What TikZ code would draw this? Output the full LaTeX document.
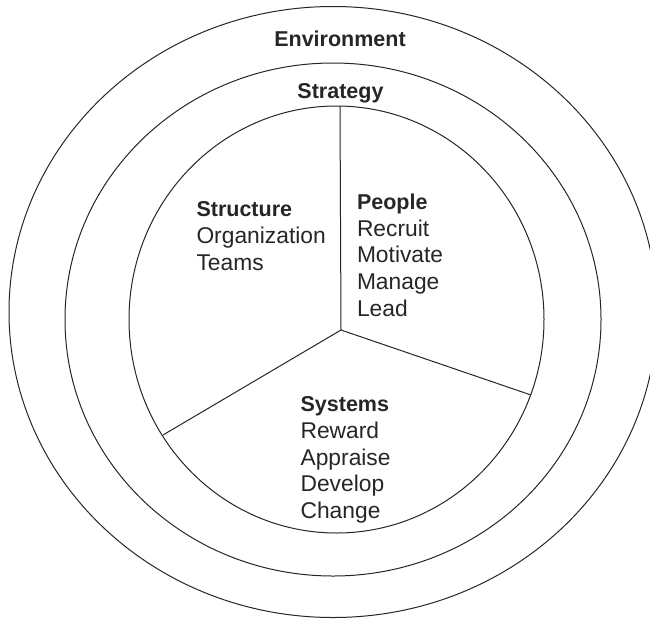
\documentclass[tikz,border=0pt]{standalone}
\usepackage{fontspec}
\setmainfont{Liberation Sans}
\begin{document}
\begin{tikzpicture}[x=1pt,y=-1pt,
  ring/.style={draw=black!85,line width=1pt},
  spoke/.style={draw=black!85,line width=1pt},
  lbl/.style={anchor=base west,inner sep=0pt,font=\fontsize{22.8}{26.7}\selectfont,text=black!85},
  head/.style={lbl,font=\fontsize{21.5}{26.7}\selectfont\bfseries},
  ctitle/.style={anchor=base,inner sep=0pt,font=\fontsize{21.5}{26.7}\selectfont\bfseries,text=black!85}]
\useasboundingbox (0,0) rectangle (650,619);
% rings
\draw[ring] (333,312) ellipse [x radius=324, y radius=305.5];
\draw[ring] (333,319.5) ellipse [x radius=268, y radius=256.5];
\draw[ring] (336.5,319.5) ellipse [x radius=207.5, y radius=213.5];
% spokes
\coordinate (hub) at (341,330);
\coordinate (top) at (340,106);
\coordinate (left) at (163,435);
\coordinate (right) at (531,395);
\draw[spoke] (top) -- (hub);
\draw[spoke] (hub) -- (left);
\draw[spoke] (hub) -- (right);
% ring titles
\node[ctitle] (env) at (340,46.9) {Environment};
\node[ctitle] (strat) at (340.5,98.3) {Strategy};
% structure
\node[head] (structure) at (196.3,216.6) {Structure};
\node[lbl] (s1) at (196.3,243.3) {Organization};
\node[lbl] (s2) at (196.3,270.0) {Teams};
% people
\node[head] (people) at (356.8,209.5) {People};
\node[lbl] (p1) at (356.8,236.2) {Recruit};
\node[lbl] (p2) at (356.8,262.9) {Motivate};
\node[lbl] (p3) at (356.8,289.6) {Manage};
\node[lbl] (p4) at (356.8,316.3) {Lead};
% systems
\node[head] (systems) at (300.4,411.6) {Systems};
\node[lbl] (y1) at (300.4,438.3) {Reward};
\node[lbl] (y2) at (300.4,465.0) {Appraise};
\node[lbl] (y3) at (300.4,491.7) {Develop};
\node[lbl] (y4) at (300.4,518.4) {Change};
\end{tikzpicture}
\end{document}
